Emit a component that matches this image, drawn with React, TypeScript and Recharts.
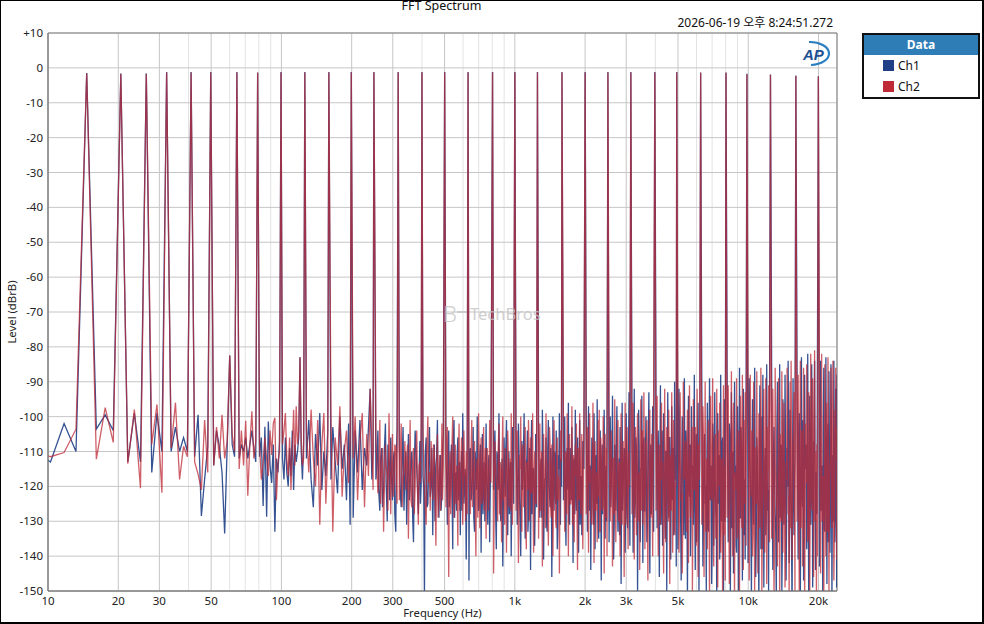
import React from 'react';
import { LineChart, Line, XAxis, YAxis, CartesianGrid, Legend, ReferenceArea } from 'recharts';

const FONT = "'Noto Sans', 'Noto Sans CJK KR', sans-serif";

const X_TICKS = [10, 20, 30, 50, 100, 200, 300, 500, 1000, 2000, 3000, 5000, 10000, 20000];
const X_MINOR = [40, 60, 70, 80, 90, 400, 600, 700, 800, 900, 4000, 6000, 7000, 8000, 9000];
const Y_TICKS = [-150, -140, -130, -120, -110, -100, -90, -80, -70, -60, -50, -40, -30, -20, -10, 0, 10];

// multitone peaks
const TONE_HZ = [14.65, 20.51, 26.37, 32.23, 41.02, 49.8, 64.45, 79.1, 99.61, 125.98, 159.67, 199.22, 249.02, 316.41, 400.0, 500.5, 630.5, 802.7, 1000.2, 1250, 1592, 2001, 2505, 3141, 3979, 4940, 6252, 8030, 9869, 12450, 15996, 19970];
const CH1_TONE_DB = [-1.5, -1.6, -1.6, -1.2, -1.2, -1.2, -1.2, -1.3, -1.2, -1.2, -1.2, -1.2, -1.2, -1.2, -1.2, -1.2, -1.2, -1.2, -1.2, -1.2, -1.2, -1.2, -1.2, -1.2, -1.2, -1.2, -1.3, -1.3, -1.7, -1.9, -2.2, -2.4];
const CH2_TONE_DB = [-1.6, -1.7, -1.7, -1.3, -1.3, -1.3, -1.3, -1.4, -1.3, -1.3, -1.3, -1.3, -1.3, -1.3, -1.3, -1.3, -1.3, -1.3, -1.3, -1.3, -1.3, -1.3, -1.3, -1.3, -1.3, -1.3, -1.4, -1.4, -1.8, -2.0, -2.3, -2.5];

// noise floor, 8 - 126 Hz (FFT bins)
const LOW_HZ = [
  8.79, 10.25, 11.72, 13.18, 16.11, 17.58, 19.04, 21.97, 23.44, 24.9,
  27.83, 29.3, 30.76, 33.69, 35.16, 36.62, 38.09, 39.55, 42.48, 43.95,
  45.41, 46.88, 48.34, 51.27, 52.73, 54.2, 55.66, 57.13, 58.59, 60.06,
  61.52, 62.99, 65.92, 67.38, 68.85, 70.31, 71.78, 73.24, 74.71, 76.17,
  77.64, 80.57, 82.03, 83.5, 84.96, 86.43, 87.89, 89.36, 90.82, 92.29,
  93.75, 95.21, 96.68, 98.14, 101.07, 102.54, 104, 105.47, 106.93, 108.4,
  109.86, 111.33, 112.79, 114.26, 115.72, 117.19, 118.65, 120.12, 121.58, 123.05,
  124.51,
];
const LOW_CH1 = [
  -110, -113, -102, -110, -103.6, -99.5, -104, -113, -99, -113,
  -116, -99, -110, -110, -103, -110, -106, -110, -111.5, -99.5,
  -128.5, -118, -108.5, -114, -104, -108.5, -116, -133.5, -108, -82.5,
  -108, -111.5, -112, -108, -110, -106, -112, -108, -104, -109,
  -113, -111.5, -106, -125.6, -102.9, -128.7, -101.4, -114, -119, -108,
  -133, -112, -116, -107, -112, -118, -106, -116, -120, -109,
  -117, -104, -121, -108, -113, -110, -106, -83, -110, -118,
  -107,
];
const LOW_CH2 = [
  -110, -111.5, -110.3, -103.6, -112.2, -97.4, -107.4, -113.5, -98, -120.5,
  -108, -96.5, -121.8, -109, -96, -118, -108.5, -111.5, -113, -116.5,
  -121, -101, -116, -114, -103, -112, -99.5, -112, -107, -82.5,
  -105, -110, -115, -104, -114, -101.2, -122.7, -108, -98.5, -112,
  -107, -108, -118, -113, -106, -112, -117, -104, -111, -102,
  -100.3, -124, -113, -110, -108, -104, -99, -112, -117, -106,
  -121, -110, -98, -114, -97, -108, -104, -83, -107, -114,
  -112,
];

// 126 - 250 Hz
const B_HZ = [
  128, 131, 134, 137, 140, 143, 146, 149, 152, 155, 158,
  163, 166, 170, 174, 178, 182, 186, 190, 194, 197,
  203, 207, 212, 217, 222, 227, 232, 236, 240, 244, 247,
];
const B_CH1 = [
  -112, -101, -118, -126, -105, -114, -99, -121, -110, -117, -104,
  -118, -103, -113, -122, -100, -115, -108, -124, -102, -131,
  -129, -104, -116, -101, -121, -109, -114, -103, -92, -118, -110,
];
const B_CH2 = [
  -104, -116, -98, -112, -120, -101, -131, -108, -99, -125, -110,
  -99, -133, -106, -114, -97, -123, -110, -104, -119, -107,
  -112, -100, -124, -107, -99, -126, -105, -117, -92, -108, -121,
];

// 250 - 500 Hz
const C_HZ = [
  254, 259, 264, 269, 274, 279, 284, 289, 294, 299, 304, 309, 313,
  320, 326, 332, 338, 344, 350, 356, 362, 368, 374, 380, 386, 392, 397,
  404, 410, 417, 424, 431, 438, 445, 452, 459, 466, 473, 480, 487, 494,
];
const C_CH1 = [
  -118, -104, -127, -109, -121, -102, -130, -113, -106, -124, -110, -133, -103,
  -108, -126, -103, -117, -131, -105, -120, -110, -136, -104, -115, -128, -107, -119,
  -117, -152, -106, -125, -103, -119, -134, -108, -114, -101, -129, -111, -122, -105,
];
const C_CH2 = [
  -106, -122, -101, -115, -133, -108, -117, -99, -128, -105, -119, -109, -125,
  -124, -102, -118, -107, -112, -135, -101, -126, -109, -120, -104, -131, -113, -103,
  -103, -121, -131, -100, -116, -107, -124, -110, -137, -105, -119, -127, -102, -114,
];
const C2_HZ = [
  256, 261, 266, 271, 276, 281, 286, 291, 296, 301, 306, 311,
  323, 329, 335, 341, 347, 353, 359, 365, 371, 377, 383, 389, 394,
  407, 413, 420, 427, 434, 441, 448, 455, 462, 469, 476, 483, 490,
];
const C2_CH1 = [
  -115, -121, -112, -126, -110, -119, -108, -124, -117, -113, -128, -111,
  -122, -113, -127, -110, -118, -124, -112, -129, -115, -109, -121, -116, -125,
  -120, -111, -126, -114, -123, -109, -118, -130, -112, -121, -115, -127, -110,
];
const C2_CH2 = [
  -112, -118, -125, -109, -121, -114, -127, -111, -116, -123, -108, -119,
  -111, -126, -115, -121, -108, -117, -124, -113, -128, -110, -122, -114, -119,
  -113, -125, -110, -119, -127, -115, -108, -122, -117, -129, -111, -120, -124,
];

// 500 - 1000 Hz
const D_HZ = [
  507, 514, 521, 528, 535, 542, 549, 556, 563, 570, 577, 584, 591, 598, 605, 612, 619, 625,
  636, 645, 654, 663, 672, 681, 690, 699, 708, 717, 726, 735, 744, 753, 762, 771, 780, 790,
  811, 822, 833, 844, 855, 866, 877, 888, 899, 910, 921, 932, 943, 954, 965, 976, 988,
];
const D_CH1 = [
  -112, -131, -104, -122, -108, -138, -101, -117, -127, -106, -120, -134, -110, -99, -125, -115, -141, -107,
  -147, -109, -122, -103, -133, -115, -100, -127, -111, -139, -105, -119, -130, -102, -124, -113, -136, -108,
  -121, -104, -138, -112, -99, -127, -116, -143, -106, -123, -101, -134, -110, -118, -140, -103, -125,
];
const D_CH2 = [
  -126, -103, -146, -110, -119, -100, -129, -108, -114, -137, -102, -121, -106, -131, -104, -118, -110, -128,
  -113, -128, -101, -120, -107, -140, -112, -99, -132, -106, -123, -103, -115, -135, -109, -127, -101, -119,
  -145, -107, -118, -130, -102, -113, -136, -100, -121, -109, -139, -104, -126, -112, -99, -131, -108,
];
const D2_HZ = [
  510, 517, 524, 531, 538, 545, 552, 559, 566, 573, 580, 587, 594, 601, 608, 615, 622,
  640, 649, 658, 667, 676, 685, 694, 703, 712, 721, 730, 739, 748, 757, 766, 775, 785,
  816, 827, 838, 849, 860, 871, 882, 893, 904, 915, 926, 937, 948, 959, 970, 982,
];
const D2_CH1 = [
  -118, -109, -126, -114, -121, -107, -129, -116, -111, -124, -113, -119, -127, -110, -122, -117, -125,
  -112, -124, -117, -129, -110, -121, -115, -126, -108, -119, -128, -113, -122, -116, -131, -111, -120,
  -114, -127, -110, -121, -118, -130, -112, -125, -116, -109, -123, -119, -128, -113, -120, -115,
];
const D2_CH2 = [
  -110, -122, -115, -128, -108, -119, -113, -125, -120, -111, -127, -116, -109, -123, -114, -130, -117,
  -121, -110, -126, -114, -123, -116, -129, -111, -118, -125, -112, -127, -109, -120, -115, -124, -113,
  -126, -113, -120, -109, -128, -117, -111, -124, -131, -115, -119, -110, -122, -127, -114, -121,
];

// 1 - 2 kHz
const E_HZ = [
  1012, 1024, 1036, 1048, 1060, 1072, 1084, 1096, 1108, 1120, 1132, 1144, 1156, 1168, 1180, 1192, 1204, 1216, 1228, 1240,
  1264, 1280, 1296, 1312, 1328, 1344, 1360, 1376, 1392, 1408, 1424, 1440, 1456, 1472, 1488, 1504, 1520, 1536, 1552, 1568, 1584,
  1616, 1636, 1656, 1676, 1696, 1716, 1736, 1756, 1776, 1796, 1816, 1836, 1856, 1876, 1896, 1916, 1936, 1956, 1976,
];
const E_CH1 = [
  -110, -131, -102, -124, -140, -107, -118, -99, -135, -113, -104, -128, -109, -144, -101, -121, -115, -137, -105, -126,
  -103, -129, -112, -98, -141, -118, -106, -133, -101, -122, -109, -146, -100, -127, -115, -104, -138, -111, -99, -131, -120,
  -124, -100, -137, -109, -96, -131, -116, -103, -142, -112, -98, -127, -106, -139, -101, -120, -134, -107, -115,
];
const E_CH2 = [
  -127, -104, -142, -111, -100, -133, -108, -120, -103, -138, -116, -101, -130, -106, -122, -99, -139, -110, -125, -102,
  -135, -102, -119, -143, -105, -128, -99, -114, -137, -103, -126, -108, -140, -101, -121, -132, -106, -117, -145, -104, -112,
  -104, -133, -111, -99, -140, -105, -125, -97, -118, -136, -108, -102, -144, -113, -99, -128, -105, -138, -101,
];
const E2_HZ = [
  1018, 1030, 1042, 1054, 1066, 1078, 1090, 1102, 1114, 1126, 1138, 1150, 1162, 1174, 1186, 1198, 1210, 1222, 1234,
  1272, 1288, 1304, 1320, 1336, 1352, 1368, 1384, 1400, 1416, 1432, 1448, 1464, 1480, 1496, 1512, 1528, 1544, 1560, 1576,
  1626, 1646, 1666, 1686, 1706, 1726, 1746, 1766, 1786, 1806, 1826, 1846, 1866, 1886, 1906, 1926, 1946, 1966,
];
const E2_CH1 = [
  -117, -125, -111, -130, -114, -121, -108, -127, -119, -112, -133, -116, -123, -110, -128, -115, -120, -126, -113,
  -122, -114, -129, -111, -124, -118, -131, -109, -120, -126, -113, -128, -117, -110, -125, -121, -132, -115, -119, -112,
  -116, -127, -112, -121, -130, -109, -124, -118, -113, -128, -120, -111, -126, -115, -131, -117, -122, -110,
];
const E2_CH2 = [
  -112, -120, -128, -115, -123, -110, -126, -117, -131, -113, -121, -109, -127, -119, -114, -129, -116, -122, -125,
  -118, -127, -110, -123, -115, -132, -112, -125, -120, -108, -129, -117, -122, -114, -130, -111, -124, -119, -126, -113,
  -121, -110, -128, -116, -113, -125, -119, -131, -111, -122, -117, -127, -109, -124, -120, -114, -129, -118,
];

// 2 - 4 kHz
const F_HZ = [
  2023, 2046, 2069, 2092, 2115, 2138, 2161, 2184, 2207, 2230, 2253, 2276, 2299, 2322, 2345, 2368, 2391, 2414, 2437, 2460, 2483,
  2534, 2563, 2592, 2621, 2650, 2679, 2708, 2737, 2766, 2795, 2824, 2853, 2882, 2911, 2940, 2969, 2998, 3027, 3056, 3085, 3111,
  3176, 3212, 3248, 3284, 3320, 3356, 3392, 3428, 3464, 3500, 3536, 3572, 3608, 3644, 3680, 3716, 3752, 3788, 3824, 3860, 3896, 3932,
];
const F_CH1 = [
  -101, -133, -97, -121, -144, -106, -126, -99, -138, -111, -95, -130, -117, -104, -147, -108, -123, -98, -135, -114, -102,
  -136, -100, -119, -94, -141, -108, -127, -97, -133, -112, -103, -148, -96, -122, -109, -139, -99, -129, -115, -93, -137,
  -104, -139, -92, -124, -110, -150, -98, -131, -115, -94, -142, -106, -127, -100, -136, -113, -93, -145, -108, -121, -97, -133,
];
const F_CH2 = [
  -128, -103, -139, -99, -115, -131, -96, -142, -107, -124, -136, -101, -98, -133, -110, -127, -100, -145, -105, -119, -140,
  -98, -130, -104, -143, -112, -95, -136, -118, -101, -126, -140, -99, -131, -107, -146, -96, -120, -103, -138, -110, -97,
  -128, -96, -141, -103, -134, -99, -119, -144, -95, -112, -131, -93, -138, -107, -101, -147, -116, -98, -129, -105, -140, -94,
];
const F2_HZ = [
  2035, 2058, 2081, 2104, 2127, 2150, 2173, 2196, 2219, 2242, 2265, 2288, 2311, 2334, 2357, 2380, 2403, 2426, 2449, 2472,
  2549, 2578, 2607, 2636, 2665, 2694, 2723, 2752, 2781, 2810, 2839, 2868, 2897, 2926, 2955, 2984, 3013, 3042, 3071, 3098,
  3194, 3230, 3266, 3302, 3338, 3374, 3410, 3446, 3482, 3518, 3554, 3590, 3626, 3662, 3698, 3734, 3770, 3806, 3842, 3878, 3914,
];
const F2_CH1 = [
  -118, -110, -127, -114, -122, -108, -131, -116, -112, -125, -119, -135, -109, -121, -115, -128, -111, -124, -117, -130,
  -113, -126, -109, -120, -131, -115, -107, -123, -118, -134, -111, -121, -127, -114, -110, -125, -119, -132, -108, -122,
  -120, -112, -129, -106, -117, -124, -110, -136, -115, -122, -108, -127, -113, -119, -131, -105, -123, -116, -128, -111, -118,
];
const F2_CH2 = [
  -112, -124, -108, -119, -130, -114, -121, -110, -127, -116, -111, -123, -133, -106, -118, -125, -113, -120, -129, -109,
  -119, -108, -124, -112, -128, -117, -121, -106, -130, -113, -118, -126, -110, -122, -115, -131, -109, -124, -116, -120,
  -109, -125, -114, -121, -107, -130, -116, -111, -127, -104, -120, -115, -124, -110, -132, -118, -106, -122, -113, -128, -117,
];

// 4 - 8 kHz
const G_HZ = [
  4025, 4070, 4115, 4160, 4205, 4250, 4295, 4340, 4385, 4430, 4475, 4520, 4565, 4610, 4655, 4700, 4745, 4790, 4835, 4880, 4915,
  4995, 5050, 5105, 5160, 5215, 5270, 5325, 5380, 5435, 5490, 5545, 5600, 5655, 5710, 5765, 5820, 5875, 5930, 5985, 6040, 6095, 6150, 6200,
  6322, 6394, 6466, 6538, 6610, 6682, 6754, 6826, 6898, 6970, 7042, 7114, 7186, 7258, 7330, 7402, 7474, 7546, 7618, 7690, 7762, 7834, 7906, 7970,
];
const G_CH1 = [
  -95, -132, -104, -146, -91, -119, -137, -99, -126, -110, -150, -93, -129, -106, -141, -97, -122, -134, -90, -115, -143,
  -138, -92, -117, -147, -100, -128, -89, -135, -109, -152, -94, -123, -140, -97, -114, -131, -88, -144, -105, -126, -96, -150, -112,
  -91, -143, -108, -125, -150, -96, -133, -89, -119, -148, -102, -137, -93, -127, -153, -99, -116, -141, -88, -130, -106, -151, -95, -122,
];
const G_CH2 = [
  -127, -94, -140, -108, -131, -96, -113, -145, -92, -136, -103, -124, -98, -148, -111, -93, -139, -101, -130, -119, -95,
  -101, -139, -93, -124, -145, -90, -118, -107, -133, -98, -142, -91, -129, -111, -150, -95, -121, -103, -137, -92, -146, -115, -99,
  -131, -97, -146, -90, -115, -138, -101, -152, -94, -124, -89, -143, -110, -135, -92, -149, -104, -96, -139, -112, -150, -91, -128, -147,
];
const G2_HZ = [
  4048, 4093, 4138, 4183, 4228, 4273, 4318, 4363, 4408, 4453, 4498, 4543, 4588, 4633, 4678, 4723, 4768, 4813, 4858, 4898,
  5022, 5077, 5132, 5187, 5242, 5297, 5352, 5407, 5462, 5517, 5572, 5627, 5682, 5737, 5792, 5847, 5902, 5957, 6012, 6067, 6122, 6175,
  6358, 6430, 6502, 6574, 6646, 6718, 6790, 6862, 6934, 7006, 7078, 7150, 7222, 7294, 7366, 7438, 7510, 7582, 7654, 7726, 7798, 7870, 7938,
];
const G2_CH1 = [
  -116, -108, -125, -112, -131, -104, -120, -114, -135, -110, -122, -117, -106, -128, -113, -124, -109, -133, -118, -111,
  -121, -107, -129, -115, -110, -134, -118, -104, -126, -113, -120, -108, -131, -116, -123, -109, -127, -114, -136, -106, -119, -124,
  -112, -127, -105, -120, -116, -132, -109, -124, -114, -137, -107, -121, -118, -129, -103, -125, -111, -133, -117, -108, -126, -115, -130,
];
const G2_CH2 = [
  -109, -121, -114, -128, -106, -118, -132, -111, -124, -116, -105, -130, -119, -112, -127, -108, -123, -115, -134, -120,
  -113, -126, -105, -122, -131, -110, -117, -128, -107, -135, -119, -114, -124, -103, -129, -116, -111, -133, -120, -125, -108, -118,
  -125, -106, -119, -133, -112, -104, -127, -115, -122, -109, -131, -117, -105, -124, -136, -113, -120, -107, -128, -118, -110, -134, -114,
];

// 8 - 16 kHz
const H_HZ = [
  8118, 8206, 8294, 8382, 8470, 8558, 8646, 8734, 8822, 8910, 8998, 9086, 9174, 9262, 9350, 9438, 9526, 9614, 9702, 9790,
  9982, 10094, 10206, 10318, 10430, 10542, 10654, 10766, 10878, 10990, 11102, 11214, 11326, 11438, 11550, 11662, 11774, 11886, 11998, 12110, 12222, 12334,
  12598, 12746, 12894, 13042, 13190, 13338, 13486, 13634, 13782, 13930, 14078, 14226, 14374, 14522, 14670, 14818, 14966, 15114, 15262, 15410, 15558, 15706, 15854,
];
const H_CH1 = [
  -88, -136, -102, -151, -93, -124, -145, -90, -114, -139, -97, -153, -86, -129, -108, -147, -92, -120, -141, -99,
  -142, -89, -117, -152, -95, -131, -86, -146, -106, -124, -155, -91, -138, -100, -88, -149, -113, -134, -85, -127, -150, -97,
  -87, -144, -103, -128, -154, -90, -136, -85, -119, -150, -95, -131, -88, -147, -109, -84, -142, -98, -125, -156, -89, -134, -112,
];
const H_CH2 = [
  -129, -91, -148, -110, -87, -140, -96, -154, -118, -89, -133, -104, -150, -94, -126, -88, -144, -101, -93, -137,
  -94, -147, -88, -123, -140, -90, -153, -109, -87, -145, -99, -132, -86, -151, -118, -92, -139, -89, -148, -103, -91, -136,
  -135, -92, -151, -86, -120, -143, -89, -154, -105, -87, -139, -96, -149, -113, -86, -128, -152, -90, -84, -141, -108, -93, -150,
];
const H2_HZ = [
  8162, 8250, 8338, 8426, 8514, 8602, 8690, 8778, 8866, 8954, 9042, 9130, 9218, 9306, 9394, 9482, 9570, 9658, 9746,
  10038, 10150, 10262, 10374, 10486, 10598, 10710, 10822, 10934, 11046, 11158, 11270, 11382, 11494, 11606, 11718, 11830, 11942, 12054, 12166, 12278,
  12672, 12820, 12968, 13116, 13264, 13412, 13560, 13708, 13856, 14004, 14152, 14300, 14448, 14596, 14744, 14892, 15040, 15188, 15336, 15484, 15632, 15780,
];
const H2_CH1 = [
  -114, -126, -105, -119, -132, -110, -123, -117, -137, -108, -121, -115, -129, -103, -124, -112, -134, -118, -110,
  -120, -108, -131, -114, -125, -102, -119, -135, -111, -127, -116, -106, -122, -138, -113, -124, -109, -130, -117, -121, -105,
  -126, -111, -119, -133, -104, -122, -115, -129, -108, -136, -117, -124, -110, -131, -120, -103, -127, -114, -139, -112, -123, -118,
];
const H2_CH2 = [
  -108, -119, -131, -113, -124, -104, -128, -116, -121, -135, -110, -126, -117, -107, -132, -119, -114, -125, -122,
  -112, -127, -116, -104, -133, -121, -109, -125, -118, -130, -106, -123, -114, -128, -110, -136, -117, -103, -126, -115, -131,
  -107, -124, -133, -112, -128, -117, -105, -121, -130, -114, -109, -127, -135, -118, -106, -123, -116, -132, -111, -126, -104, -120,
];

// 16 - 24 kHz
const I_HZ = [
  16180, 16360, 16540, 16720, 16900, 17080, 17260, 17440, 17620, 17800, 17980, 18160, 18340, 18520, 18700, 18880, 19060, 19240, 19420, 19600, 19780,
  20190, 20410, 20630, 20850, 21070, 21290, 21510, 21730, 21950, 22170, 22390, 22610, 22830, 23050, 23270, 23490, 23710, 23930, 24000,
];
const I_CH1 = [
  -86, -141, -99, -152, -83, -126, -147, -88, -113, -138, -82, -155, -94, -131, -85, -149, -107, -84, -144, -121, -87,
  -143, -84, -120, -151, -86, -133, -83, -148, -102, -87, -139, -85, -154, -111, -84, -136, -92, -149, -88,
];
const I_CH2 = [
  -130, -88, -150, -84, -117, -143, -86, -155, -102, -85, -136, -93, -151, -82, -124, -89, -146, -81, -110, -153, -140,
  -89, -145, -82, -127, -153, -85, -140, -96, -83, -150, -114, -86, -132, -84, -147, -98, -86, -141, -103,
];
const I2_HZ = [
  16270, 16450, 16630, 16810, 16990, 17170, 17350, 17530, 17710, 17890, 18070, 18250, 18430, 18610, 18790, 18970, 19150, 19330, 19510, 19690,
  20300, 20520, 20740, 20960, 21180, 21400, 21620, 21840, 22060, 22280, 22500, 22720, 22940, 23160, 23380, 23600, 23820,
];
const I2_CH1 = [
  -118, -104, -129, -112, -123, -101, -135, -115, -108, -126, -119, -131, -106, -121, -113, -137, -110, -124, -116, -128,
  -109, -127, -114, -103, -132, -118, -122, -107, -136, -113, -125, -104, -119, -130, -111, -126, -115,
];
const I2_CH2 = [
  -110, -125, -116, -132, -104, -121, -113, -128, -119, -107, -134, -114, -122, -101, -127, -117, -111, -130, -124, -108,
  -121, -106, -130, -117, -112, -125, -103, -133, -115, -120, -109, -128, -105, -124, -134, -112, -118,
];

const BANDS = [
  [LOW_HZ, LOW_CH1, LOW_CH2],
  [B_HZ, B_CH1, B_CH2],
  [C_HZ, C_CH1, C_CH2],
  [C2_HZ, C2_CH1, C2_CH2],
  [D_HZ, D_CH1, D_CH2],
  [D2_HZ, D2_CH1, D2_CH2],
  [E_HZ, E_CH1, E_CH2],
  [E2_HZ, E2_CH1, E2_CH2],
  [F_HZ, F_CH1, F_CH2],
  [F2_HZ, F2_CH1, F2_CH2],
  [G_HZ, G_CH1, G_CH2],
  [G2_HZ, G2_CH1, G2_CH2],
  [H_HZ, H_CH1, H_CH2],
  [H2_HZ, H2_CH1, H2_CH2],
  [I_HZ, I_CH1, I_CH2],
  [I2_HZ, I2_CH1, I2_CH2],
];

const rows: { f: number; ch1: number; ch2: number }[] = [];
for (const [hz, c1, c2] of BANDS) {
  const n = Math.min(hz.length, c1.length, c2.length);
  for (let i = 0; i < n; i++) rows.push({ f: hz[i], ch1: c1[i], ch2: c2[i] });
}
TONE_HZ.forEach((f, i) => rows.push({ f, ch1: CH1_TONE_DB[i], ch2: CH2_TONE_DB[i] }));
rows.sort((a, b) => a.f - b.f);

const fmtHz = (v: number) => (v >= 1000 ? `${v / 1000}k` : `${v}`);
const fmtDb = (v: number) => (v > 0 ? `+${v}` : `${v}`);

const scaleOf = (axis: any, v: number) => {
  const s = axis && axis.scale;
  if (!s) return null;
  if (typeof s === 'function') return s(v);
  if (typeof s.map === 'function') return s.map(v);
  return null;
};
const minorGen = ({ xAxis }: any) =>
  X_MINOR.map((v) => scaleOf(xAxis, v)).filter((v) => typeof v === 'number' && isFinite(v)) as number[];

const LegendBox = ({ payload }: any) => (
  <div
    style={{
      width: 118,
      border: '2px solid #111',
      boxSizing: 'border-box',
      background: '#fff',
      fontFamily: FONT,
      fontSize: 12,
      color: '#111',
    }}
  >
    <div
      style={{
        height: 20,
        lineHeight: '20px',
        background: '#2F7DB6',
        color: '#fff',
        fontWeight: 700,
        textAlign: 'center',
      }}
    >
      Data
    </div>
    {(payload || []).map((e: any) => (
      <div key={e.value} style={{ height: 21, display: 'flex', alignItems: 'center', paddingLeft: 19 }}>
        <span style={{ width: 11, height: 11, background: e.color, display: 'inline-block' }} />
        <span style={{ marginLeft: 4 }}>{e.value}</span>
      </div>
    ))}
  </div>
);

export default function App() {
  return (
    <div style={{ position: 'absolute', left: 0, top: 0, width: 984, height: 624, background: '#fff', fontFamily: FONT }}>
      <LineChart
        width={984}
        height={624}
        data={rows}
        margin={{ top: 33, right: 147, bottom: 0, left: 0 }}
        style={{ fontFamily: FONT }}
      >
        <CartesianGrid horizontal={false} stroke="#e3e3e3" verticalCoordinatesGenerator={minorGen} />
        <CartesianGrid stroke="#c6c6c6" />
        <XAxis
          dataKey="f"
          type="number"
          scale="log"
          domain={[10, 24000]}
          allowDataOverflow
          ticks={X_TICKS}
          interval={0}
          tickFormatter={fmtHz}
          height={33}
          tickLine={false}
          tickSize={6}
          tickMargin={0}
          axisLine={{ stroke: '#808080' }}
          tick={{ fill: '#222', fontSize: 11.5 }}
          label={{ value: 'Frequency (Hz)', position: 'insideBottom', offset: 7, fill: '#222', fontSize: 11.3 }}
        />
        <YAxis
          type="number"
          domain={[-150, 10]}
          allowDataOverflow
          ticks={Y_TICKS}
          interval={0}
          width={48}
          tickFormatter={fmtDb}
          tickLine={false}
          tickSize={5}
          tickMargin={0}
          axisLine={{ stroke: '#808080' }}
          tick={{ fill: '#222', fontSize: 11.5 }}
          label={{
            value: 'Level (dBrB)',
            angle: -90,
            position: 'insideLeft',
            offset: 11.5,
            textAnchor: 'middle',
            fill: '#222',
            fontSize: 11.3,
          }}
        />
        <Line
          type="linear"
          dataKey="ch1"
          name="Ch1"
          stroke="#1F3F86"
          strokeOpacity={0.9}
          strokeWidth={1.3}
          dot={false}
          activeDot={false}
          isAnimationActive={false}
        />
        <Line
          type="linear"
          dataKey="ch2"
          name="Ch2"
          stroke="#BE2A36"
          strokeOpacity={0.75}
          strokeWidth={1.3}
          dot={false}
          activeDot={false}
          isAnimationActive={false}
        />
        <ReferenceArea x1={10} x2={24000} y1={-150} y2={10} fill="none" stroke="#808080" strokeWidth={1} />
        <Legend
          layout="horizontal"
          verticalAlign="middle"
          align="center"
          wrapperStyle={{ left: 862, top: 33, width: 118 }}
          content={(props: any) => <LegendBox payload={props.payload} />}
        />
      </LineChart>
      <svg
        width={984}
        height={624}
        style={{ position: 'absolute', left: 0, top: 0, pointerEvents: 'none' }}
      >
        <text x={441.5} y={10} textAnchor="middle" fontSize={12.5} fill="#111" fontFamily={FONT}>
          FFT Spectrum
        </text>
        <text x={833} y={26.5} textAnchor="end" fontSize={12} fill="#111" fontFamily={FONT}>
          2026-06-19 오후 8:24:51.272
        </text>
        <text
          x={803}
          y={60}
          fontSize={15}
          fontWeight={700}
          fontStyle="italic"
          fill="#1d4f91"
          fontFamily="'Liberation Sans', Arial, sans-serif"
        >
          AP
        </text>
        <path d="M 809 42 A 19 11.5 0 0 1 811 65" fill="none" stroke="#2b7fc1" strokeWidth={2.2} />
        <g opacity={0.8}>
          <text x={443} y={322} fontSize={22} fontWeight={300} fill="#c4c4c4" fontFamily={FONT}>
            B
          </text>
          <line x1={457} y1={312} x2={467} y2={312} stroke="#c4c4c4" strokeWidth={2} />
          <text x={470} y={320} fontSize={16.5} fill="#c4c4c4" fontFamily={FONT}>
            TechBros
          </text>
        </g>
      </svg>
      <div
        style={{
          position: 'absolute',
          left: 0,
          top: 0,
          width: 984,
          height: 624,
          boxSizing: 'border-box',
          borderTop: '1px solid #000',
          borderLeft: '1px solid #000',
          borderRight: '2px solid #000',
          borderBottom: '2px solid #000',
          pointerEvents: 'none',
        }}
      />
    </div>
  );
}
